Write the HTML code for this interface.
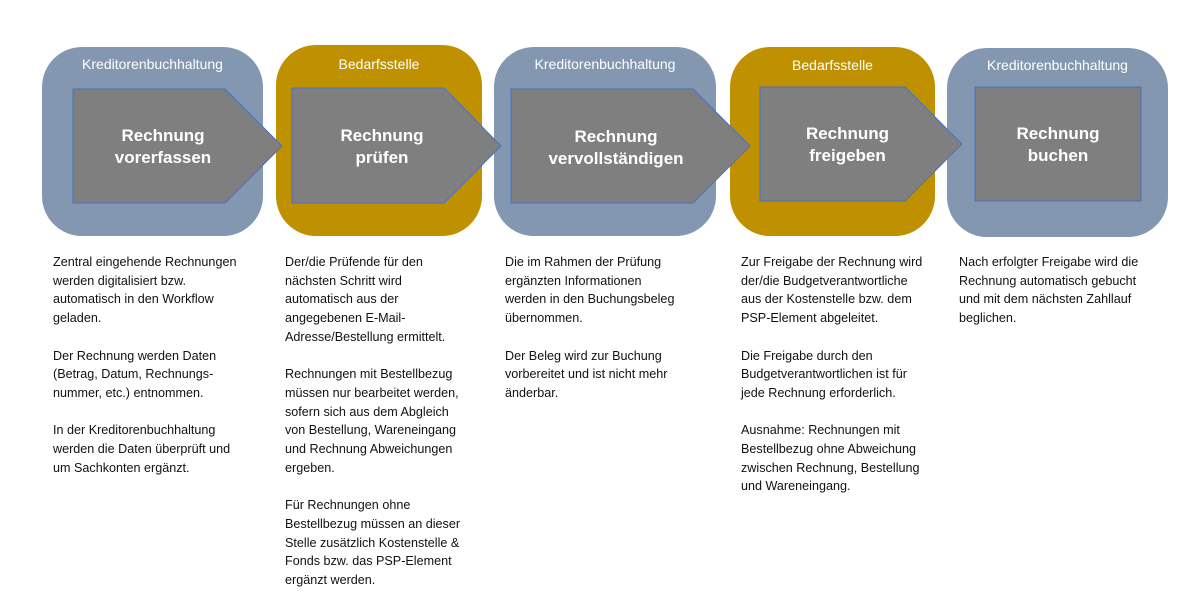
<!DOCTYPE html>
<html><head><meta charset="utf-8"><style>
body{margin:0;width:1200px;height:601px;background:#fff;position:relative;overflow:hidden;font-family:"Liberation Sans",sans-serif}
.box{position:absolute;border-radius:40px}
.b{background:#8497b0}.g{background:#bf9000}
.lbl{position:absolute;color:#fff;font-size:14px;text-align:center}
.t{position:absolute;color:#fff;font-weight:bold;font-size:17px;text-align:center;line-height:22px}
.col{position:absolute;top:253px;font-size:12.6px;line-height:18.7px;color:#111;white-space:pre}
svg{position:absolute;left:0;top:0}
</style></head><body>
<div class="box b" style="left:42px;top:47px;width:221px;height:189px"></div>
<div class="box g" style="left:276px;top:45px;width:206px;height:191px"></div>
<div class="box b" style="left:494px;top:47px;width:222px;height:189px"></div>
<div class="box g" style="left:730px;top:47px;width:205px;height:189px"></div>
<div class="box b" style="left:947px;top:48px;width:221px;height:189px"></div>
<svg width="1200" height="601">
<g fill="#7f7f7f" stroke="#4472c4" stroke-width="1">
<polygon points="73,89 225,89 282,146 225,203 73,203"/>
<polygon points="292,88 444,88 501,146 444,203 292,203"/>
<polygon points="511,89 693,89 750,146 693,203 511,203"/>
<polygon points="760,87 905,87 962,144 905,201 760,201"/>
<rect x="975" y="87" width="166" height="114"/>
</g></svg>
<div class="lbl" style="left:42px;top:56px;width:221px">Kreditorenbuchhaltung</div>
<div class="lbl" style="left:276px;top:56px;width:206px">Bedarfsstelle</div>
<div class="lbl" style="left:494px;top:56px;width:222px">Kreditorenbuchhaltung</div>
<div class="lbl" style="left:730px;top:57px;width:205px">Bedarfsstelle</div>
<div class="lbl" style="left:947px;top:57px;width:221px">Kreditorenbuchhaltung</div>
<div class="t" style="left:73px;top:125px;width:180px">Rechnung<br>vorerfassen</div>
<div class="t" style="left:292px;top:125px;width:180px">Rechnung<br>prüfen</div>
<div class="t" style="left:511px;top:126px;width:210px">Rechnung<br>vervollständigen</div>
<div class="t" style="left:760px;top:123px;width:175px">Rechnung<br>freigeben</div>
<div class="t" style="left:975px;top:123px;width:166px">Rechnung<br>buchen</div>
<div class="col" style="left:53px">Zentral eingehende Rechnungen
werden digitalisiert bzw.
automatisch in den Workflow
geladen.

Der Rechnung werden Daten
(Betrag, Datum, Rechnungs-
nummer, etc.) entnommen.

In der Kreditorenbuchhaltung
werden die Daten überprüft und
um Sachkonten ergänzt.</div>
<div class="col" style="left:285px">Der/die Prüfende für den
nächsten Schritt wird
automatisch aus der
angegebenen E-Mail-
Adresse/Bestellung ermittelt.

Rechnungen mit Bestellbezug
müssen nur bearbeitet werden,
sofern sich aus dem Abgleich
von Bestellung, Wareneingang
und Rechnung Abweichungen
ergeben.

Für Rechnungen ohne
Bestellbezug müssen an dieser
Stelle zusätzlich Kostenstelle &amp;
Fonds bzw. das PSP-Element
ergänzt werden.</div>
<div class="col" style="left:505px">Die im Rahmen der Prüfung
ergänzten Informationen
werden in den Buchungsbeleg
übernommen.

Der Beleg wird zur Buchung
vorbereitet und ist nicht mehr
änderbar.</div>
<div class="col" style="left:741px">Zur Freigabe der Rechnung wird
der/die Budgetverantwortliche
aus der Kostenstelle bzw. dem
PSP-Element abgeleitet.

Die Freigabe durch den
Budgetverantwortlichen ist für
jede Rechnung erforderlich.

Ausnahme: Rechnungen mit
Bestellbezug ohne Abweichung
zwischen Rechnung, Bestellung
und Wareneingang.</div>
<div class="col" style="left:959px">Nach erfolgter Freigabe wird die
Rechnung automatisch gebucht
und mit dem nächsten Zahllauf
beglichen.</div>
</body></html>
